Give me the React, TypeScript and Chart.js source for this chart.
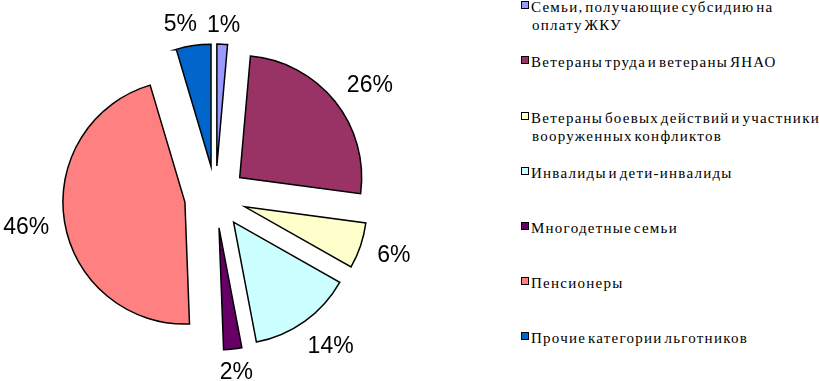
import React, { useEffect, useRef } from 'react';
import { Chart, registerables } from 'chart.js';

Chart.register(...registerables);

const categories = [
  'Семьи, получающие субсидию на оплату ЖКУ',
  'Ветераны труда и ветераны ЯНАО',
  'Ветераны боевых действий и участники вооруженных конфликтов',
  'Инвалиды и дети-инвалиды',
  'Многодетные семьи',
  'Пенсионеры',
  'Прочие категории льготников',
];

// share of each category, percent
const shares = [1.4, 25.7, 6.1, 13.8, 2.4, 46.0, 4.6];

const colors = ['#9999FF', '#993366', '#FFFFCC', '#CCFFFF', '#660066', '#FF8080', '#0066CC'];

// number of words on the first legend line (0 = no wrap)
const legendWrap = [4, 0, 5, 0, 0, 0, 0];

const EXPLODE = 31;
const RADIUS = 122;
const LABEL_GAP = 13;
const LABEL_H = 14;
const LABEL_DIAG = 18;
const LABEL_MIN_SEP = 10;

const explodePlugin = {
  id: 'explode',
  afterDatasetsUpdate(chart: any) {
    const meta = chart.getDatasetMeta(0);
    const a = chart.chartArea;
    const cx = (a.left + a.right) / 2;
    const cy = (a.top + a.bottom) / 2;
    meta.data.forEach((el: any) => {
      const mid = (el.startAngle + el.endAngle) / 2;
      el.x = cx + Math.cos(mid) * EXPLODE;
      el.y = cy + Math.sin(mid) * EXPLODE;
    });
  },
};

const labelPlugin = {
  id: 'pctLabels',
  afterDatasetsDraw(chart: any) {
    const ctx = chart.ctx;
    const meta = chart.getDatasetMeta(0);
    const data = chart.data.datasets[0].data as number[];
    const total = data.reduce((s, v) => s + v, 0);
    const fontSize = 23;
    ctx.save();
    ctx.font = fontSize + 'px "Liberation Sans", Arial, sans-serif';
    ctx.fillStyle = '#000';
    ctx.textAlign = 'center';
    ctx.textBaseline = 'alphabetic';
    const boxes = meta.data.map((el: any, i: number) => {
      const text = Math.round((data[i] / total) * 100) + '%';
      const w = ctx.measureText(text).width;
      const mid = (el.startAngle + el.endAngle) / 2;
      const c = Math.cos(mid);
      const s = Math.sin(mid);
      const r = el.outerRadius + LABEL_GAP + LABEL_DIAG * Math.abs(c * s);
      return { text, w, x: el.x + c * r + (c * w) / 2, y: el.y + s * r + (s * LABEL_H) / 2 };
    });
    // push later labels away horizontally when boxes collide
    for (let i = 0; i < boxes.length; i++) {
      for (let j = 0; j < i; j++) {
        const a = boxes[j];
        const b = boxes[i];
        if (Math.abs(a.y - b.y) < fontSize) {
          const need = (a.w + b.w) / 2 + LABEL_MIN_SEP;
          const dx = b.x - a.x;
          if (Math.abs(dx) < need) {
            b.x = a.x + (dx < 0 ? -need : need);
          }
        }
      }
    }
    boxes.forEach((b: any) => ctx.fillText(b.text, b.x, b.y + fontSize * 0.358));
    ctx.restore();
  },
};

function legendLines(label: string, wrap: number): string[] {
  if (!wrap) return [label];
  const words = label.split(' ');
  return [words.slice(0, wrap).join(' '), words.slice(wrap).join(' ')];
}

export default function App() {
  const ref = useRef<HTMLCanvasElement>(null);

  useEffect(() => {
    if (!ref.current) return;
    const chart = new Chart(ref.current, {
      type: 'pie',
      data: {
        labels: categories,
        datasets: [
          {
            data: shares,
            backgroundColor: colors,
            borderColor: '#000',
            borderWidth: 1.5,
            borderJoinStyle: 'miter',
            radius: RADIUS,
          } as any,
        ],
      },
      options: {
        responsive: false,
        animation: false,
        events: [],
        layout: { padding: 0 },
        plugins: {
          legend: { display: false },
          tooltip: { enabled: false },
        },
      },
      plugins: [explodePlugin, labelPlugin],
    });
    return () => chart.destroy();
  }, []);

  return (
    <div
      style={{
        position: 'fixed',
        left: 0,
        top: 0,
        width: 819,
        height: 381,
        overflow: 'hidden',
        background: '#fff',
      }}
    >
      <canvas ref={ref} width={431} height={394} style={{ position: 'absolute', left: 0, top: 0 }} />
      {categories.map((cat, i) => (
        <div
          key={cat}
          style={{
            position: 'absolute',
            left: 521,
            top: 5.7 + 55.2 * i - 7.5,
            display: 'flex',
            alignItems: 'flex-start',
            fontFamily: '"Liberation Serif", "Times New Roman", serif',
            fontSize: 15,
            lineHeight: '18px',
            letterSpacing: 1.25,
            wordSpacing: -3.2,
            color: '#000',
            whiteSpace: 'nowrap',
          }}
        >
          <div
            style={{
              width: 6,
              height: 6,
              marginTop: 3,
              border: '1.5px solid #000',
              background: colors[i],
              flex: 'none',
            }}
          />
          <div style={{ marginLeft: 2 }}>
            {legendLines(cat, legendWrap[i]).map((ln, j) => (
              <div key={j} style={{ paddingLeft: j > 0 ? 1 : 0 }}>
                {ln}
              </div>
            ))}
          </div>
        </div>
      ))}
    </div>
  );
}
